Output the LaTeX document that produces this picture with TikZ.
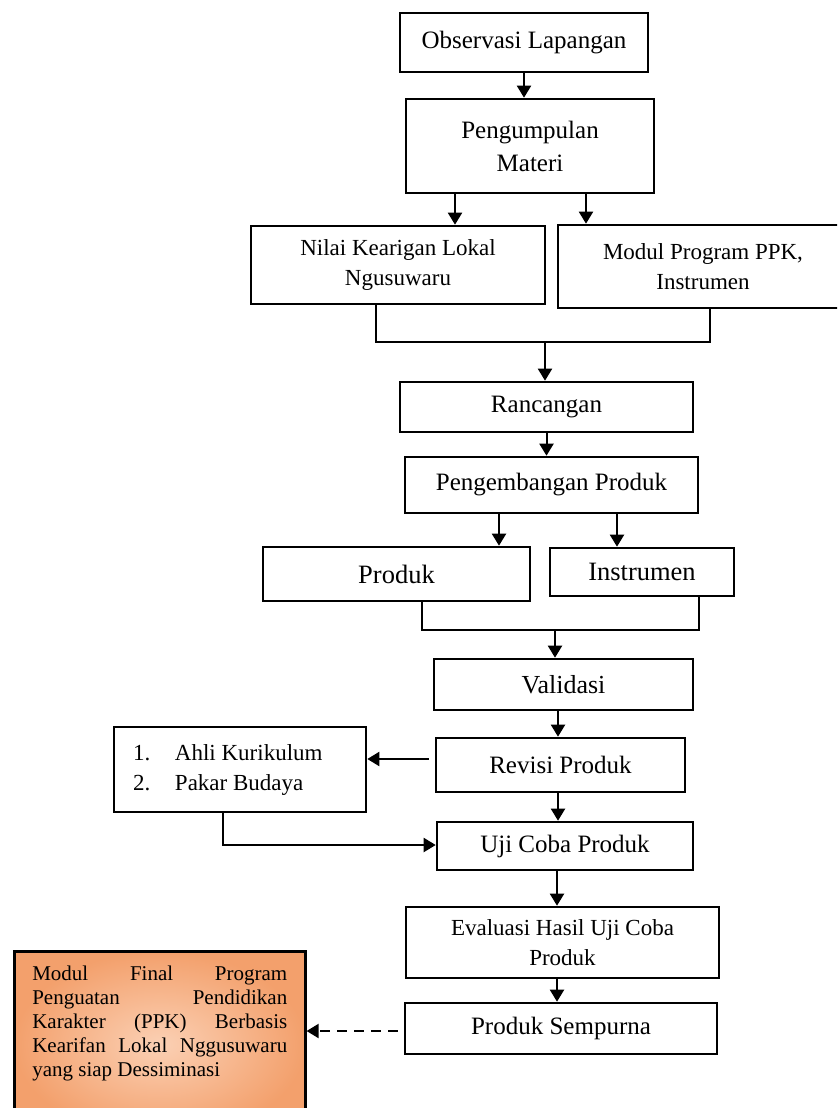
\documentclass[tikz,border=0pt]{standalone}
\usepackage{fontspec}
\setmainfont{Liberation Serif}
\usetikzlibrary{arrows.meta}
\definecolor{peachin}{RGB}{251,208,180}
\definecolor{peachout}{RGB}{243,160,108}

\begin{document}
\begin{tikzpicture}[x=0.5pt,y=-0.5pt,
  box/.style={draw,line width=1.3pt,inner sep=2pt,align=center,font=\fontsize{12.5}{16}\selectfont},
  smallbox/.style={box,font=\fontsize{11.5}{15}\selectfont},
  arr/.style={line width=1pt,-{Triangle[length=6pt,width=7pt]}},
  link/.style={line width=1pt}]
\useasboundingbox (0,0) rectangle (837,1108);
\clip (0,0) rectangle (837,1108);

\node[box,minimum width=124pt,minimum height=29.5pt] (obs) at (524,42.5) {Observasi Lapangan};
\node[box,minimum width=124pt,minimum height=47pt,font=\fontsize{12.5}{16.5}\selectfont] (kumpul) at (530,146) {Pengumpulan\\Materi};
\node[smallbox,minimum width=147pt,minimum height=39pt] (nilai) at (398,265) {Nilai Kearigan Lokal\\Ngusuwaru};
\node[smallbox,minimum width=145pt,minimum height=41.5pt] (modul) at (703,266.5) {Modul Program PPK,\\Instrumen};
\node[box,minimum width=146.5pt,minimum height=25pt] (ranc) at (546.5,407) {Rancangan};
\node[box,minimum width=146.5pt,minimum height=28pt] (kembang) at (551.5,485) {Pengembangan Produk};
\node[box,minimum width=133.5pt,minimum height=27pt,font=\fontsize{13.25}{16}\selectfont] (produk) at (396.5,574) {Produk};
\node[box,minimum width=92pt,minimum height=24pt,font=\fontsize{13.25}{16}\selectfont] (instr) at (642,572) {Instrumen};
\node[box,minimum width=129.5pt,minimum height=25.5pt,font=\fontsize{13}{16}\selectfont] (valid) at (563.5,684.5) {Validasi};
\node[box,minimum width=124.5pt,minimum height=27pt] (revisi) at (560.5,765) {Revisi Produk};
\node[box,minimum width=128pt,minimum height=24pt] (uji) at (565,846) {Uji Coba Produk};
\node[smallbox,minimum width=156.5pt,minimum height=35.5pt] (eval) at (562.5,942.5) {Evaluasi Hasil Uji Coba\\Produk};
\node[box,minimum width=156pt,minimum height=25.5pt] (sempurna) at (561,1028.5) {Produk Sempurna};

\node[smallbox,align=flush left,text width=107pt,inner xsep=9.5pt,minimum height=42.5pt] (ahli) at (240,769.5)
  {\makebox[21pt][l]{1.}Ahli Kurikulum\\\makebox[21pt][l]{2.}Pakar Budaya};

\node[draw,line width=1.3pt,inner xsep=9pt,inner ysep=7.5pt,anchor=north west,
  shading=radial,inner color=peachin,outer color=peachout,
  font=\fontsize{10.5}{12}\selectfont] (final) at (13,950)
  {\parbox[t][78pt][t]{127.5pt}{Modul Final Program\linebreak Penguatan Pendidikan\linebreak Karakter (PPK) Berbasis\linebreak Kearifan Lokal Nggusuwaru\linebreak yang siap Dessiminasi}};

\draw[arr] (obs.south) -- (obs.south |- kumpul.north);
\draw[arr] (kumpul.south -| 455,0) -- (nilai.north -| 455,0);
\draw[arr] (kumpul.south -| 586,0) -- (modul.north -| 586,0);

\coordinate (j1) at (545,342);
\draw[link] (nilai.south -| 376,0) |- (j1) -| (modul.south -| 710,0);
\draw[arr] (j1) -- (j1 |- ranc.north);
\draw[arr] (ranc.south) -- (ranc.south |- kembang.north);
\draw[arr] (kembang.south -| 499,0) -- (produk.north -| 499,0);
\draw[arr] (kembang.south -| 617,0) -- (instr.north -| 617,0);

\coordinate (j2) at (555,630);
\draw[link] (produk.south -| 422,0) |- (j2) -| (instr.south -| 699,0);
\draw[arr] (j2) -- (j2 |- valid.north);
\draw[arr] (valid.south -| 558,0) -- (revisi.north -| 558,0);

% revisi goes to the experts, then back into the trial
\draw[arr,shorten <=3pt] (revisi.west |- 0,759) -- (ahli.east |- 0,759);
\draw[arr] (ahli.south -| 223,0) |- (uji.west |- 0,845);
\draw[arr] (revisi.south -| 558,0) -- (uji.north -| 558,0);
\draw[arr] (uji.south -| 557,0) -- (eval.north -| 557,0);
\draw[arr] (eval.south -| 557,0) -- (sempurna.north -| 557,0);

\draw[arr,dash pattern=on 5pt off 3.5pt,shorten <=3pt] (sempurna.west |- 0,1031) -- (final.east |- 0,1031);
\end{tikzpicture}
\end{document}
